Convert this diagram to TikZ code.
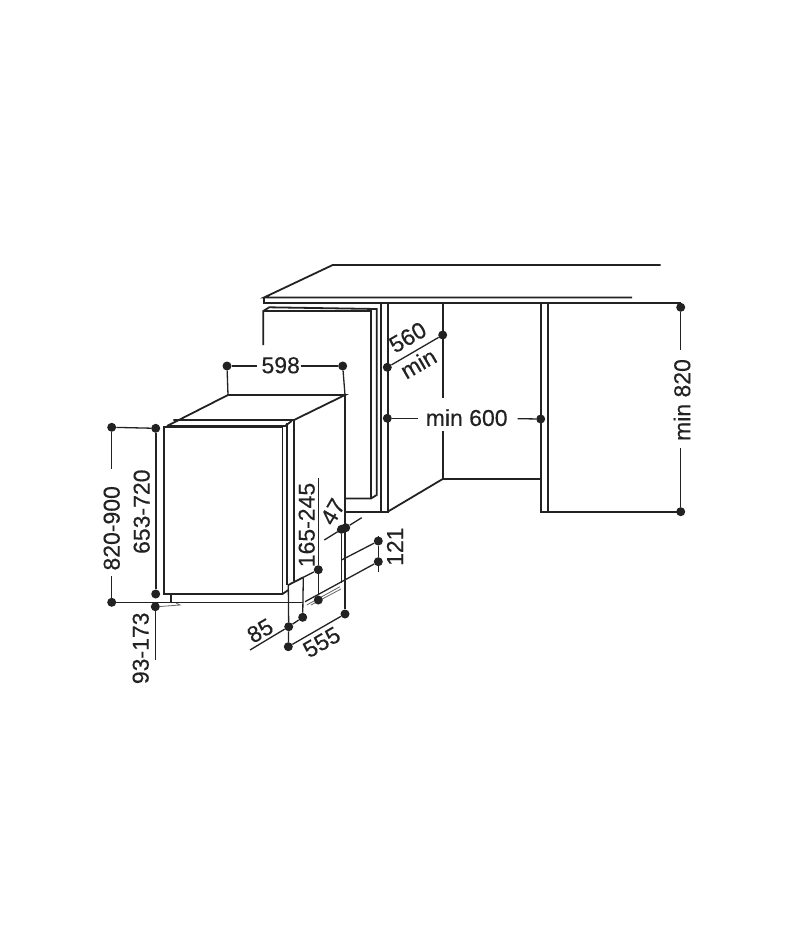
\documentclass[tikz,border=0pt]{standalone}
\usepackage{fontspec}
\setmainfont[FakeBold=0.35]{Liberation Sans}
\definecolor{ink}{HTML}{222222}
\tikzset{
  outline/.style={draw=ink, line width=1.8pt, line join=miter},
  dimline/.style={draw=ink, line width=1.3pt},
  faint/.style={draw=ink!70, line width=0.8pt},
  dimdot/.style={circle, fill=ink, inner sep=0pt, minimum size=9pt},
  dimtext/.style={text=ink, inner sep=0pt, font=\fontsize{23}{23}\selectfont}
}
\begin{document}
\begin{tikzpicture}[x=1pt,y=-1pt]
\useasboundingbox (0,0) rectangle (800,950);

% worktop and cabinets
\draw[outline] (660.7,265) -- (332.7,265) -- (264,297.5) -- (632,297.5);
\draw[outline] (264,297.5) -- (264,303.3) -- (680.7,303.3);
\draw[outline] (263.3,345) -- (263.3,311) -- (269.3,307.3) -- (376.7,309) -- (376.7,495) -- (371,498.5) -- (345,498.5);
\draw[outline] (263.3,311) -- (371,311) -- (371,498.5);
\draw[outline] (381,303.3) -- (381,511.7);
\draw[outline] (345,511.7) -- (387.7,511.7) -- (387.7,303.3);
\draw[outline] (387.7,511.7) -- (442.7,479) -- (540.7,479);
\draw[outline] (540.7,303.3) -- (540.7,511.7) -- (680.7,511.7);
\draw[outline] (547.7,303.3) -- (547.7,511.7);

% appliance
\draw[outline] (164,427.3) rectangle (282.5,594);
\draw[outline] (167,426) -- (228,395) -- (345,395) -- (294,420) -- (173.3,420);
\draw[outline] (168,426) -- (285,426) -- (291.7,421);
\draw[outline] (287.3,423) -- (287.3,585);
\draw[outline] (294,420) -- (294,581);
\draw[outline] (282.5,594) -- (288.3,590);
\draw[outline] (288.3,585) -- (303.3,577.3);
\draw[outline] (170.7,594) -- (170.7,602.3);
\draw[faint] (160,606.5) -- (180,605) -- (176,603);
\draw[faint] (306.7,605) -- (340,586.7);
\draw[faint] (311,605) -- (341,589);

% dots
\node[dimdot] (w598a) at (227,366) {};
\node[dimdot] (w598b) at (342.7,366) {};
\node[dimdot] (d560a) at (387.3,367.3) {};
\node[dimdot] (d560b) at (442.7,335) {};
\node[dimdot] (w600a) at (387.3,418.3) {};
\node[dimdot] (w600b) at (540.7,419) {};
\node[dimdot] (h820a) at (680.7,307.3) {};
\node[dimdot] (h820b) at (680.7,511.7) {};
\node[dimdot] (h900a) at (111.7,427.3) {};
\node[dimdot] (h900b) at (111.7,602.3) {};
\node[dimdot] (h720a) at (155.7,428.3) {};
\node[dimdot] (h720b) at (155.7,594) {};
\node[dimdot] (h173a) at (155.3,606.7) {};
\node[dimdot] (h245a) at (318.3,569.7) {};
\node[dimdot] (h245b) at (318.3,600) {};
\node[dimdot] (d85a) at (288.7,626.7) {};
\node[dimdot] (d85b) at (302.7,617.3) {};
\node[dimdot] (d555a) at (288.3,646.7) {};
\node[dimdot] (d555b) at (345,614) {};
\node[dimdot] (d47a) at (341.5,529.3) {};
\node[dimdot] (d47b) at (345.7,527.7) {};
\node[dimdot] (h121a) at (378.3,541) {};
\node[dimdot] (h121b) at (378.3,561.7) {};

% free ends
\coordinate (boxa) at (228,395);
\coordinate (boxb) at (345,395);
\coordinate (back1) at (442.7,303.3);
\coordinate (back2) at (442.7,398);
\coordinate (back3) at (442.7,431);
\coordinate (back4) at (442.7,479);
\coordinate (front1) at (288.3,585);
\coordinate (step85) at (303.3,577.3);
\coordinate (top245) at (318.3,478.3);
\coordinate (end173) at (155.3,660);
\coordinate (end85) at (250,650);
\coordinate (end47a) at (324.3,540);
\coordinate (end47b) at (361.7,517.7);
\coordinate (kink) at (341.5,560);
\coordinate (low47) at (341.5,582.7);
\coordinate (end121a) at (378.3,536.7);
\coordinate (end121b) at (378.3,571.7);
\coordinate (low121) at (305,601.7);

% labels
\node[dimtext] (t598) at (280.7,365.3) {598};
\node[dimtext, rotate=30] (t560) at (407.7,337.3) {560};
\node[dimtext, rotate=30] (tmin) at (418.3,363.3) {min};
\node[dimtext] (t600) at (466.7,417.7) {min 600};
\node[dimtext, rotate=90] (t820) at (682,400) {min 820};
\node[dimtext, rotate=90] (t900) at (111.7,528.3) {820-900};
\node[dimtext, rotate=90] (t720) at (141.7,511.7) {653-720};
\node[dimtext, rotate=90] (t173) at (140.7,648.3) {93-173};
\node[dimtext, rotate=90] (t245) at (306.7,525) {165-245};
\node[dimtext, rotate=60] (t47) at (332.7,511.7) {47};
\node[dimtext, rotate=90] (t121) at (395,546.7) {121};
\node[dimtext, rotate=30] (t85) at (260,630.7) {85};
\node[dimtext, rotate=30] (t555) at (321.7,642.3) {555};

% dimension lines
\draw[dimline] (w598a) -- (256.7,366);
\draw[dimline] (300.7,366) -- (w598b);
\draw[dimline] (w598a) -- (boxa);
\draw[dimline] (w598b) -- (boxb);
\draw[dimline] (d560a) -- (d560b);
\draw[outline] (back1) -- (back2);
\draw[outline] (back3) -- (back4);
\draw[dimline] (w600a) -- (418.3,418.3);
\draw[dimline] (517.7,418.7) -- (w600b);
\draw[dimline] (h820a) -- (680.7,350);
\draw[dimline] (680.7,448) -- (h820b);
\draw[dimline] (h900a) -- (h720a);
\draw[dimline] (h900a) -- (111.7,469.3);
\draw[dimline] (111.7,576) -- (h900b);
\draw[outline] (h720a) -- (h720b);
\draw[dimline] (h173a) -- (end173);
\draw[dimline] (h900b) -- (303.3,602.3);
\draw[outline] (boxb) -- (d555b);
\draw[dimline] (top245) -- (h245a) -- (h245b);
\draw[dimline] (front1) -- (d85a) -- (d555a);
\draw[dimline] (step85) -- (h245a);
\draw[dimline] (step85) -- (d85b);
\draw[dimline] (end85) -- (d85a) -- (d85b);
\draw[dimline] (d555a) -- (d555b);
\draw[dimline] (end47a) -- (d47a) -- (d47b) -- (end47b);
\draw[dimline] (d47a) -- (kink) -- (low47);
\draw[dimline] (kink) -- (h121a);
\draw[dimline] (low121) -- (h121b);
\draw[dimline] (end121a) -- (h121a) -- (h121b) -- (end121b);
\end{tikzpicture}
\end{document}
